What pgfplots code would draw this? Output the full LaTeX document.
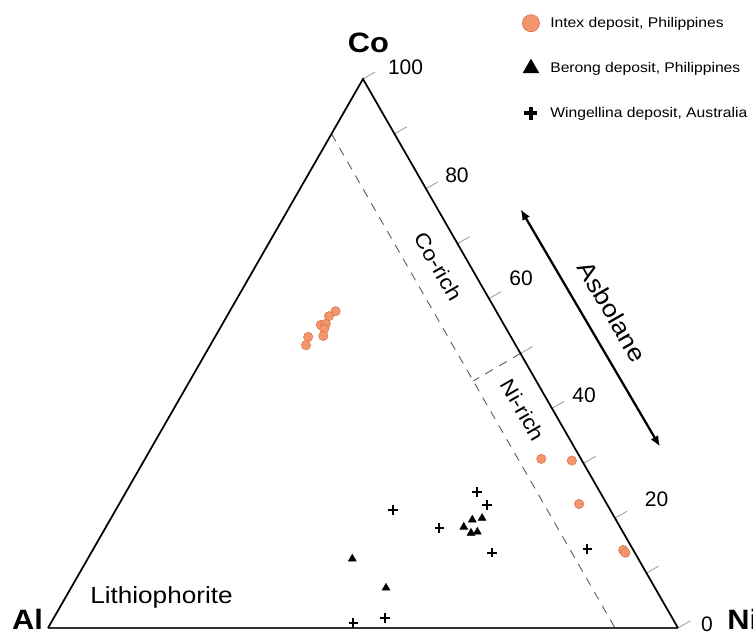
\documentclass[border=0pt]{standalone}
\usepackage{pgfplots}
\pgfplotsset{compat=1.18}
\usepackage{pgfplotstable}
\usepackage{fontspec}
\setmainfont{Liberation Sans}[FakeStretch=1.12]
\newfontfamily\numfont{Liberation Sans}
\newfontfamily\boldfont{Liberation Sans}[FakeStretch=1.1]
\usetikzlibrary{arrows.meta}

\definecolor{intexfill}{RGB}{243,150,110}
\definecolor{intexedge}{RGB}{218,114,74}
\definecolor{dashgray}{RGB}{95,95,95}
\definecolor{tickgray}{RGB}{165,165,165}

% Compositions in percent (Co, Ni, Al); Al = 100 - Co - Ni
\pgfplotstableread{
Co    Ni    Al
57.7  16.8  25.5
56.8  16.2  27.0
55.2  15.7  29.1
55.4  16.4  28.2
54.5  16.6  28.9
53.2  17.1  29.7
53.0  14.8  32.2
51.5  15.2  33.3
30.8  62.9   6.3
30.5  67.9   1.6
22.6  73.0   4.4
14.2  84.2   1.6
13.7  84.8   1.5
}\intex

\pgfplotstableread{
Co    Ni    Al
19.7  57.5  22.8
20.0  58.9  21.1
18.4  56.8  24.8
17.3  58.5  24.2
17.5  59.4  23.1
12.6  42.0  45.4
 7.3  50.0  42.7
}\berong

\pgfplotstableread{
Co    Ni    Al
24.8  55.7  19.5
22.4  58.5  19.1
18.2  53.0  28.8
13.7  63.6  22.7
14.4  78.4   7.2
21.5  44.0  34.5
 0.9  48.0  51.1
 1.8  52.6  45.6
}\wingellina

\begin{document}
\begin{tikzpicture}
\useasboundingbox (0pt,0pt) rectangle (564.75pt,475.5pt);
\begin{axis}[
  at={(36pt,4.5pt)}, anchor=south west,
  scale only axis, width=472.5pt, height=411.75pt,
  xmin=0, xmax=100, ymin=0, ymax=86.60254,
  axis lines=none, clip=false,
  legend cell align=left,
  legend style={draw=none, fill=none, inner sep=0pt,
    at={(axis description cs:0.7445,1.118)}, anchor=north west,
    font=\fontsize{10.5}{12}\selectfont, row sep=20.5pt,
    /tikz/every even column/.append style={column sep=0pt}},
  legend image code/.code={\path (0cm,0cm) (0.68cm,0cm); \draw[#1] plot coordinates {(0.3cm,0cm)};},
]
% legend samples
\addlegendimage{only marks, mark=*, mark size=6.4pt, mark options={fill=intexfill, draw=intexedge, line width=0.5pt}}
\addlegendentry{Intex deposit, Philippines}
\addlegendimage{only marks, mark=triangle*, mark size=6.8pt, mark options={fill=black, draw=black}}
\addlegendentry{Berong deposit, Philippines}
\addlegendimage{only marks, line width=3.4pt, mark=+, mark size=4.9pt, mark options={draw=black, line width=3.4pt}}
\addlegendentry{Wingellina deposit, Australia}

% tick marks along the Co axis (right edge)
\pgfplotsinvokeforeach{0,10,...,100}{
  \draw[tickgray, line width=0.7pt] (axis cs:{100-0.5*#1},{0.8660254*#1}) -- ++(30:10.5pt);
}

% field boundaries
\draw[dashgray, line width=0.7pt, dash pattern=on 6.5pt off 5.5pt] (axis cs:45,77.94229) -- (axis cs:90,0);
\draw[dashgray, line width=0.7pt, dash pattern=on 6.5pt off 5.5pt] (axis cs:75,43.30127) -- (axis cs:67.5,38.97114);

% triangle
\draw[black!80, line width=1.8pt] (axis cs:0,0) -- (axis cs:100,0);
\draw[black, line width=1.3pt, line join=miter] (axis cs:100,0) -- (axis cs:50,86.60254) -- (axis cs:0,0);

% tick labels
\begin{scope}[every node/.style={font=\numfont\fontsize{15.75}{18}\selectfont, inner sep=0pt}]
\node at (axis cs:56.75,88.41) {100};
\node at (axis cs:64.92,71.45) {80};
\node at (axis cs:75.08,55.13) {60};
\node at (axis cs:85.08,36.75) {40};
\node at (axis cs:96.59,20.27) {20};
\node at (axis cs:104.6,0.63) {0};
\end{scope}

% vertex labels
\node[font=\boldfont\bfseries\fontsize{21}{24}\selectfont, anchor=base, inner sep=0pt] at (axis cs:50.87,90.85) {Co};
\node[font=\boldfont\bfseries\fontsize{21}{24}\selectfont, anchor=base, inner sep=0pt] at (axis cs:-3.25,-0.3) {Al};
\node[font=\boldfont\bfseries\fontsize{21}{24}\selectfont, anchor=base west, inner sep=0pt] at (axis cs:107.8,-0.3) {Ni};

% field names
\node[font=\fontsize{15.5}{18}\selectfont, rotate=-60, inner sep=0pt] at (axis cs:61.98,57.02) {Co-rich};
\node[font=\fontsize{15.5}{18}\selectfont, rotate=-60, inner sep=0pt] at (axis cs:75.4,34.38) {Ni-rich};
\node[font=\fontsize{17.5}{20}\selectfont, anchor=base west, inner sep=0pt] at (axis cs:6.67,3.9) {Lithiophorite};
\node[font=\fontsize{18}{21}\selectfont, rotate=-60, inner sep=0pt] at (axis cs:89.57,49.89) {Asbolane};
\draw[{Latex[length=8pt,width=6.5pt]}-{Latex[length=8pt,width=6.5pt]}, line width=1.7pt]
  (axis cs:75.03,66.04) -- (axis cs:97.14,28.6);

% data: x = Ni + Co/2, y = Co*sqrt(3)/2
\addplot[forget plot, only marks, mark=*, mark size=3.5pt,
  mark options={fill=intexfill, draw=intexedge, line width=0.4pt}]
  table[x expr=\thisrow{Ni}+0.5*\thisrow{Co}, y expr=0.8660254*\thisrow{Co}] {\intex};
\addplot[forget plot, only marks, mark=triangle*, mark size=3.4pt,
  mark options={fill=black, draw=black}]
  table[x expr=\thisrow{Ni}+0.5*\thisrow{Co}, y expr=0.8660254*\thisrow{Co}] {\berong};
\addplot[forget plot, only marks, mark=+, mark size=3.5pt,
  mark options={draw=black, line width=1.7pt}]
  table[x expr=\thisrow{Ni}+0.5*\thisrow{Co}, y expr=0.8660254*\thisrow{Co}] {\wingellina};
\end{axis}
\end{tikzpicture}
\end{document}
